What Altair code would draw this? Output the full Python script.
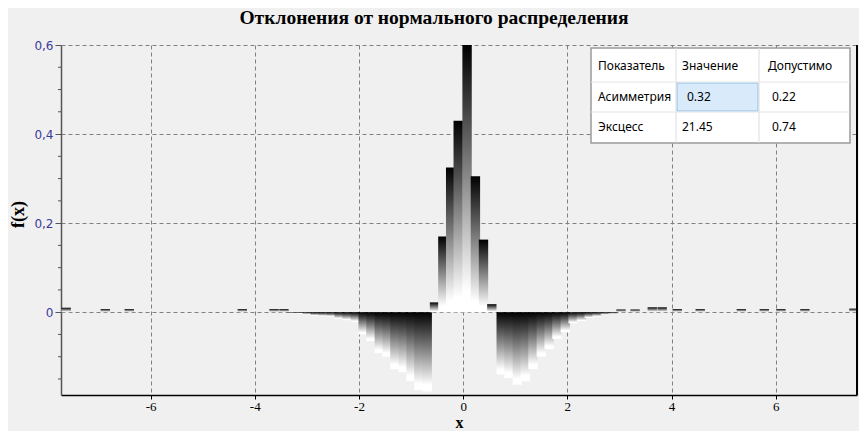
import altair as alt
import pandas as pd

TITLE = "Отклонения от нормального распределения"

# histogram of deviations: bin centres (x) and deviation values f(x)
centres = [-7.62, -6.87, -6.41, -4.24, -3.63, -3.44, -3.30, -3.15, -2.99, -2.84,
           -2.69, -2.53, -2.38, -2.23, -2.07, -1.92, -1.77, -1.61, -1.46, -1.31,
           -1.15, -1.00, -0.85, -0.69,
           -0.55, -0.39, -0.24, -0.095, 0.075, 0.235, 0.39, 0.55,
           0.73, 0.88, 1.04, 1.19, 1.34, 1.50, 1.65, 1.80, 1.96, 2.11, 2.27,
           2.42, 2.57, 2.73, 2.88, 3.03, 3.30, 3.63, 3.82, 4.11, 4.55, 5.34,
           5.78, 6.10, 6.56, 7.50]
values = [0.010, 0.007, 0.007, 0.007, 0.007, 0.007, -0.002, -0.003, -0.005, -0.008,
          -0.009, -0.010, -0.015, -0.018, -0.022, -0.050, -0.065, -0.092, -0.100, -0.128,
          -0.135, -0.155, -0.175, -0.178,
          0.022, 0.170, 0.325, 0.430, 0.600, 0.305, 0.163, 0.018,
          -0.140, -0.148, -0.163, -0.155, -0.128, -0.100, -0.083, -0.060, -0.045, -0.025, -0.020,
          -0.013, -0.010, -0.006, -0.004, 0.006, 0.006, 0.011, 0.011, 0.007, 0.007, 0.007,
          0.007, 0.007, 0.007, 0.008]

x_ticks = [-6, -4, -2, 0, 2, 4, 6]
y_ticks = [0, 0.2, 0.4, 0.6]
y_minor = [-0.15, -0.1, -0.05, 0.05, 0.1, 0.15, 0.25, 0.3, 0.35, 0.45, 0.5, 0.55]

table_header = ["Показатель", "Значение", "Допустимо"]
table_rows = [["Асимметрия", "0.32", "0.22"],
              ["Эксцесс", "21.45", "0.74"]]

# ---- layout (pixels) ----
W, H = 796, 350
BW = 0.18
X_DOM = [-7.72, 7.56]
Y_DOM = [-0.186, 0.6]

df = pd.DataFrame({"c": centres, "v": values})
df["x0"] = df["c"] - BW / 2
df["x1"] = df["c"] + BW / 2

xs = alt.Scale(domain=X_DOM, nice=False, zero=False)
ys = alt.Scale(domain=Y_DOM, nice=False, zero=False)

grad = alt.Gradient(
    gradient="linear",
    stops=[alt.GradientStop(color="#000000", offset=0),
           alt.GradientStop(color="#ffffff", offset=0.92),
           alt.GradientStop(color="#ffffff", offset=1)],
    x1=0, x2=0, y1=0, y2=1,
)

bars = alt.Chart(df).mark_bar(fill=grad, clip=True, strokeWidth=0).encode(
    x=alt.X("x0:Q", scale=xs, axis=alt.Axis(
        values=x_ticks, title="x", grid=True, gridDash=[4, 3], gridColor="#808080",
        labelExpr="'' + datum.value",
        labelFont="Liberation Serif", labelFontSize=13, labelColor="#000000",
        labelPadding=1, tickSize=4, tickColor="#000000", domainColor="#000000",
        domainWidth=1.5, titleFont="Liberation Serif", titleFontSize=16,
        titleFontWeight="bold", titleY=35, titleBaseline="bottom")),
    x2="x1:Q",
    y=alt.Y("v:Q", scale=ys, axis=alt.Axis(
        values=y_ticks, title="f(x)", grid=True, gridDash=[4, 3], gridColor="#808080",
        labelExpr="datum.value == 0 ? '0' : replace(format(datum.value, '.1f'), '.', ',')",
        labelFont="DejaVu Sans", labelFontSize=12, labelColor="#3a3a9a", labelPadding=2,
        tickSize=6, tickColor="#555555", domainColor="#555555", domainWidth=1.5,
        titleFont="Liberation Serif", titleFontSize=18, titleFontWeight="bold",
        titleAngle=270, titleX=-43, titleY=H / 2 - 6, titleAlign="center",
        titleBaseline="middle")),
    y2=alt.datum(0),
)

minor = alt.Chart(pd.DataFrame({"m": y_minor})).mark_rule(
    color="#555555", strokeWidth=1).encode(
    y=alt.Y("m:Q", scale=ys), x=alt.value(-3), x2=alt.value(0))

right_border = alt.Chart(pd.DataFrame({"a": [0]})).mark_rule(
    color="#000000", strokeWidth=2).encode(
    x=alt.value(W), y=alt.value(0), y2=alt.value(H))

title = alt.Chart(pd.DataFrame({"t": [TITLE]})).mark_text(
    font="Liberation Serif", fontSize=19.5, fontWeight="bold", color="#000000",
    align="center", baseline="alphabetic").encode(
    x=alt.value(373), y=alt.value(-21), text="t:N")

# ---- table ----
TX0, TX1, TY0, TY1 = 530, 789, 3, 98
COLS = [TX0, 615, 698, TX1]
ROWS = [TY0, 37, 67, TY1]
layers = []
layers.append(alt.Chart(pd.DataFrame({"a": [0]})).mark_rect(
    fill="#ffffff", stroke="#9a9a9a", strokeWidth=1.5).encode(
    x=alt.value(TX0), x2=alt.value(TX1), y=alt.value(TY0), y2=alt.value(TY1)))
layers.append(alt.Chart(pd.DataFrame({"a": [0]})).mark_rect(
    fill="#d9ebfb", stroke="#8cbfe9", strokeWidth=1).encode(
    x=alt.value(COLS[1] + 1), x2=alt.value(COLS[2] - 1),
    y=alt.value(ROWS[1] + 1), y2=alt.value(ROWS[2] - 1)))
for cx in COLS[1:3]:
    layers.append(alt.Chart(pd.DataFrame({"a": [0]})).mark_rule(
        color="#dcdcdc", strokeWidth=1).encode(
        x=alt.value(cx), y=alt.value(TY0), y2=alt.value(TY1)))
for ry in ROWS[1:3]:
    layers.append(alt.Chart(pd.DataFrame({"a": [0]})).mark_rule(
        color="#e4e4e4", strokeWidth=1).encode(
        x=alt.value(TX0), x2=alt.value(TX1), y=alt.value(ry)))
cell_x = [[537, 621, 707], [537, 626, 711], [537, 621, 711]]
row_y = [21, 52, 82]
all_rows = [table_header] + table_rows
for r, row in enumerate(all_rows):
    for c, txt in enumerate(row):
        layers.append(alt.Chart(pd.DataFrame({"t": [txt]})).mark_text(
            font="Noto Sans", fontSize=12, color="#000000",
            align="left", baseline="middle").encode(
            x=alt.value(cell_x[r][c]), y=alt.value(row_y[r]), text="t:N"))

chart = alt.layer(bars, minor, right_border, title, *layers).properties(
    width=W, height=H,
    autosize=alt.AutoSizeParams(type="none"),
    padding={"left": 53, "top": 37, "right": 2, "bottom": 36},
    background="#f0f0f0",
).configure_view(strokeWidth=0)

chart.save("out.html", embed_options={"renderer": "svg", "actions": False})
